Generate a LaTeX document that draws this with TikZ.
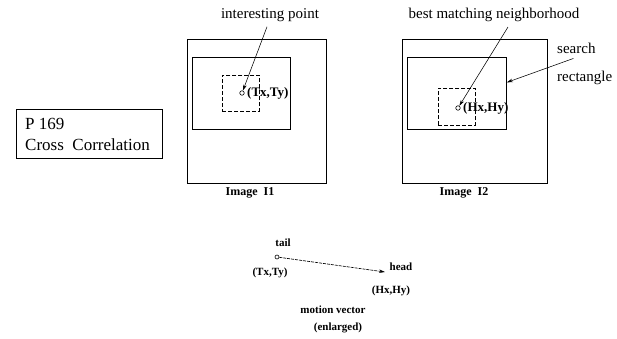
\documentclass[tikz,border=0pt]{standalone}
\usepackage{fontspec}
\setmainfont{Liberation Serif}
\usetikzlibrary{arrows.meta}
\begin{document}
\begin{tikzpicture}[x=1pt,y=-1pt,
  frame/.style={draw, line width=0.8pt, inner sep=0pt, anchor=north west},
  dbox/.style={draw, dash pattern=on 4pt off 2pt, line width=0.6pt, inner sep=0pt, anchor=north west},
  big/.style={font=\fontsize{15}{17}\selectfont, inner sep=0pt},
  lbl/.style={font=\fontsize{13}{15}\selectfont\bfseries, inner sep=0pt},
  small/.style={font=\fontsize{11}{13}\selectfont\bfseries, inner sep=0pt},
  pt/.style={circle, draw, line width=0.6pt, inner sep=0pt, minimum size=4.5pt},
  ptr/.style={-{Stealth[length=6pt,width=3.5pt]}, line width=0.55pt}]
\useasboundingbox (0,0) rectangle (617,339);

% Title box
\node[draw, line width=1.2pt, anchor=north west, minimum width=146pt, minimum height=49pt,
      inner sep=0pt] (title) at (16,109) {};
\node[anchor=west, inner sep=0pt, align=left,
      font=\fontsize{17}{21}\selectfont] (titletext) at ([xshift=9pt]title.west) {P 169\\Cross\ \ Correlation};

% Image 1
\node[frame, minimum width=139pt, minimum height=144pt] (outer1) at (187,39) {};
\node[frame, minimum width=98pt, minimum height=72pt] (inner1) at (192,57) {};
\node[dbox, minimum width=37pt, minimum height=36pt] (dash1) at (222,75) {};
\node[pt] (p1) at (242,93) {};
\node[lbl, anchor=west] (t1) at (247,93) {(Tx,Ty)};
\node[big] (lab1) at (270,15) {interesting point};
\draw[ptr] ([shift={(-3,5)}]lab1.south) -- (p1);
\node[lbl, font=\fontsize{12}{14}\selectfont\bfseries] (im1) at (250,193) {Image\ \ I1};

% Image 2
\node[frame, minimum width=145pt, minimum height=144pt] (outer2) at (402,39) {};
\node[frame, minimum width=99pt, minimum height=72pt] (inner2) at (407,57) {};
\node[dbox, minimum width=37pt, minimum height=37pt] (dash2) at (438,88) {};
\node[pt] (p2) at (458,108) {};
\node[lbl, anchor=west] (h2) at (463,108) {(Hx,Hy)};
\node[big] (lab2) at (494,15) {best matching neighborhood};
\draw[ptr] ([shift={(14,5)}]lab2.south) -- (p2);
\node[lbl, font=\fontsize{12}{14}\selectfont\bfseries] (im2) at (464,193) {Image\ \ I2};

\node[big, anchor=west] (search) at (557,48) {search};
\node[big, anchor=west] (rect) at (557,78) {rectangle};
\coordinate (sr) at ([yshift=11pt]inner2.east);
\draw[ptr] ([shift={(-3,5)}]search.south) -- (sr);

% Motion vector
\node[pt, minimum size=4pt] (tail) at (277,257) {};
\coordinate (head) at (385,272);
\draw[ptr, line width=0.65pt, dash pattern=on 3pt off 1pt] (tail) -- (head);
\node[small] (taill) at (283,243) {tail};
\node[small] (tt) at (270,273) {(Tx,Ty)};
\node[small] (headl) at (401,267) {head};
\node[small] (hh) at (391,291) {(Hx,Hy)};
\node[small] (mv) at (333,310) {motion vector};
\node[small] (enl) at (338,328) {(enlarged)};
\end{tikzpicture}
\end{document}
